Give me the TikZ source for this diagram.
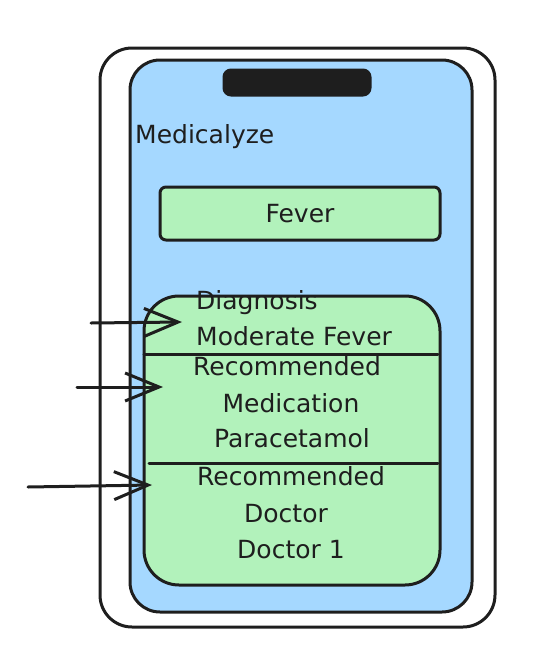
\documentclass[tikz,border=0pt]{standalone}
\usepackage{fontspec}
\setmainfont{DejaVu Sans}
\usetikzlibrary{arrows.meta}
\definecolor{scr}{HTML}{A5D8FF}
\definecolor{grn}{HTML}{B2F2BB}
\definecolor{ink}{HTML}{1E1E1E}
\tikzset{
  outline/.style={draw=ink, line width=3pt, line cap=round, line join=round},
  lbl/.style={text=ink, font=\fontsize{25}{30}\selectfont, inner sep=0pt, anchor=base},
  pointer/.style={draw=ink, line width=3pt, line cap=round, -{Straight Barb[length=34pt,width=28pt,line width=3pt]}},
}
\begin{document}
\begin{tikzpicture}[x=1pt,y=-1pt]
\useasboundingbox (0,0) rectangle (543,670);
% phone body
\draw[outline, fill=white, rounded corners=32pt] (100,48) rectangle (495,627);
% screen
\draw[outline, fill=scr, rounded corners=30pt] (130,60) rectangle (472,612);
% notch
\draw[outline, fill=ink, rounded corners=7pt] (224,70) rectangle (370,95);
% title
\node[lbl, anchor=base west] (title) at (135,143) {Medicalyze};
% search box
\draw[outline, fill=grn, rounded corners=6pt] (160,187) rectangle (440,240);
\node[lbl] (fever) at (300,222) {Fever};
% result card
\draw[outline, fill=grn, rounded corners=35pt] (144,296) rectangle (440,585);
\coordinate (s1l) at (144,354); \coordinate (s1r) at (438,354);
\coordinate (s2l) at (149,463); \coordinate (s2r) at (438,463);
\draw[outline] (s1l) -- (s1r);
\draw[outline] (s2l) -- (s2r);
% texts
\node[lbl, anchor=base west] (d1) at (196,309) {Diagnosis};
\node[lbl, anchor=base west] (d2) at (196,345) {Moderate Fever};
\node[lbl] (m1) at (287,375) {Recommended};
\node[lbl] (m2) at (291,412) {Medication};
\node[lbl] (m3) at (292,447) {Paracetamol};
\node[lbl] (r1) at (291,485) {Recommended};
\node[lbl] (r2) at (286,522) {Doctor};
\node[lbl] (r3) at (291,558) {Doctor 1};
% arrows
\coordinate (a1s) at (91,323); \coordinate (a1e) at (182,322);
\coordinate (a2s) at (77,387); \coordinate (a2e) at (163,387);
\coordinate (a3s) at (28,487); \coordinate (a3e) at (152,485);
\draw[pointer] (a1s) -- (a1e);
\draw[pointer] (a2s) -- (a2e);
\draw[pointer] (a3s) -- (a3e);
\end{tikzpicture}
\end{document}
